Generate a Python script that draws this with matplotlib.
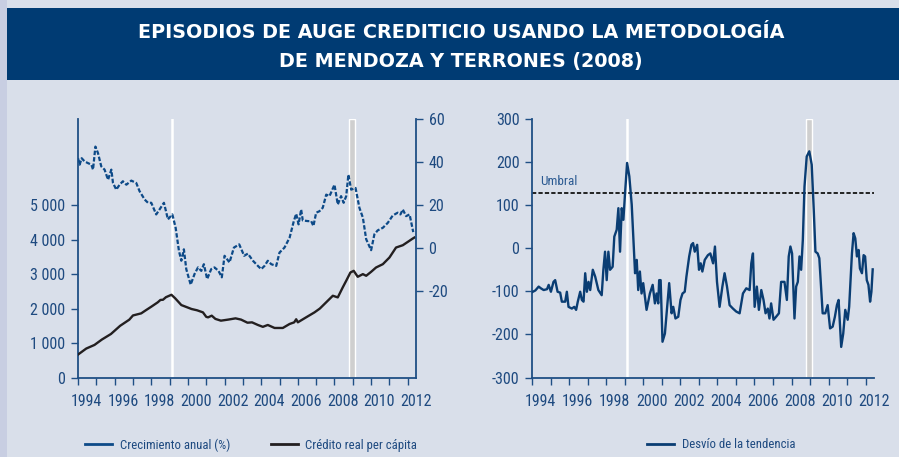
import matplotlib
matplotlib.use('Agg')
import matplotlib.pyplot as plt
from matplotlib.patches import Rectangle
from matplotlib.lines import Line2D

# ---------------- data ----------------
growth_dates = [1994.00, 1994.09, 1994.20, 1994.36, 1994.55, 1994.73, 1994.82, 1994.95,
                1995.09, 1995.27, 1995.45, 1995.64, 1995.82, 1995.91, 1996.09, 1996.27,
                1996.45, 1996.64, 1996.91, 1997.18, 1997.36, 1997.64, 1997.82, 1998.00,
                1998.27, 1998.45, 1998.69, 1998.91, 1999.15, 1999.33, 1999.51, 1999.64,
                1999.78, 1999.91, 2000.15, 2000.36, 2000.55, 2000.73, 2000.87, 2001.05,
                2001.27, 2001.45, 2001.67, 2001.85, 2002.00, 2002.27, 2002.51, 2002.80,
                2003.07, 2003.27, 2003.55, 2003.82, 2004.00, 2004.18, 2004.36, 2004.55,
                2004.82, 2005.00, 2005.27, 2005.55, 2005.78, 2005.91, 2006.04, 2006.18,
                2006.27, 2006.55, 2006.73, 2006.85, 2007.00, 2007.18, 2007.36, 2007.55,
                2007.73, 2008.00, 2008.18, 2008.36, 2008.50, 2008.64, 2008.76, 2008.91,
                2009.15, 2009.36, 2009.55, 2009.73, 2010.00, 2010.18, 2010.36, 2010.64,
                2010.91, 2011.18, 2011.45, 2011.60, 2011.73, 2011.91, 2012.10, 2012.30]
growth = [41.8, 38.8, 41.8, 40.3, 39.5, 38.8, 36.5, 47.2,
          44.2, 38.0, 36.5, 31.8, 36.5, 30.3, 27.2, 29.5,
          31.1, 29.5, 31.4, 30.3, 26.5, 22.6, 21.1, 21.1,
          15.7, 18.0, 21.1, 13.4, 15.7, 9.5, -1.2, -5.8,
          -0.5, -9.7, -16.9, -12.0, -8.9, -10.5, -7.4, -14.3,
          -9.7, -8.9, -10.5, -13.5, -3.5, -6.6, 0.3, 1.8,
          -3.5, -2.5, -5.8, -8.2, -9.7, -8.2, -5.8, -7.4,
          -8.2, -2.0, 0.3, 4.9, 12.6, 16.0, 11.1, 18.0,
          12.9, 12.6, 12.6, 10.3, 16.5, 17.2, 18.8, 24.9,
          24.2, 29.5, 20.3, 24.2, 21.1, 24.2, 34.2, 27.2,
          28.0, 18.8, 14.2, 4.2, -0.9, 6.5, 8.3, 9.5,
          11.8, 15.2, 16.5, 15.7, 18.0, 14.9, 15.7, 7.5]

credit_dates = [1994.00, 1994.45, 1994.90, 1995.30, 1995.80, 1996.30, 1996.80, 1997.00,
                1997.45, 1997.70, 1998.00, 1998.35, 1998.50, 1998.64, 1998.80, 1999.10,
                1999.30, 1999.64, 2000.20, 2000.50, 2000.82, 2001.00, 2001.10, 2001.30,
                2001.50, 2001.80, 2002.20, 2002.60, 2002.90, 2003.25, 2003.50, 2003.82,
                2004.09, 2004.36, 2004.73, 2005.18, 2005.55, 2005.80, 2005.91, 2006.00,
                2006.45, 2006.91, 2007.20, 2007.45, 2007.91, 2008.18, 2008.45, 2008.64,
                2008.87, 2009.05, 2009.27, 2009.55, 2009.73, 2010.00, 2010.27, 2010.64,
                2011.00, 2011.36, 2011.73, 2012.00, 2012.27, 2012.36]
credit = [665, 840, 945, 1100, 1263, 1500, 1678, 1800,
          1861, 1950, 2054, 2180, 2250, 2256, 2330, 2400,
          2300, 2102, 1987, 1950, 1890, 1760, 1745, 1794,
          1700, 1649, 1680, 1716, 1680, 1590, 1600, 1524,
          1470, 1524, 1437, 1437, 1553, 1600, 1690, 1601,
          1745, 1890, 2000, 2131, 2372, 2324, 2613, 2806,
          3047, 3095, 2922, 2999, 2951, 3066, 3192, 3288,
          3481, 3771, 3838, 3934, 4031, 4060]

dev_dates = [1994.00, 1994.18, 1994.36, 1994.48, 1994.63, 1994.81, 1994.90, 1995.02,
             1995.16, 1995.25, 1995.38, 1995.52, 1995.61, 1995.79, 1995.88, 1995.97,
             1996.15, 1996.28, 1996.38, 1996.47, 1996.60, 1996.69, 1996.78, 1996.87,
             1996.96, 1997.05, 1997.14, 1997.28, 1997.41, 1997.58, 1997.76, 1997.85,
             1997.94, 1998.03, 1998.12, 1998.21, 1998.35, 1998.44, 1998.57, 1998.66,
             1998.75, 1998.84, 1998.93, 1999.02, 1999.13, 1999.25, 1999.38, 1999.47,
             1999.56, 1999.65, 1999.73, 1999.82, 1999.91, 2000.00, 2000.18, 2000.36,
             2000.51, 2000.63, 2000.72, 2000.81, 2000.86, 2000.94, 2001.04, 2001.17,
             2001.29, 2001.40, 2001.53, 2001.62, 2001.74, 2001.89, 2002.01, 2002.12,
             2002.24, 2002.33, 2002.48, 2002.60, 2002.69, 2002.78, 2002.91, 2003.01,
             2003.10, 2003.19, 2003.32, 2003.49, 2003.62, 2003.77, 2003.87, 2003.98,
             2004.12, 2004.27, 2004.39, 2004.52, 2004.66, 2004.84, 2005.02, 2005.20,
             2005.38, 2005.56, 2005.74, 2005.83, 2005.92, 2006.01, 2006.13, 2006.24,
             2006.37, 2006.49, 2006.60, 2006.72, 2006.81, 2006.90, 2007.03, 2007.17,
             2007.32, 2007.44, 2007.62, 2007.75, 2007.85, 2007.94, 2008.03, 2008.16,
             2008.25, 2008.34, 2008.43, 2008.52, 2008.61, 2008.70, 2008.82, 2008.96,
             2009.09, 2009.20, 2009.29, 2009.41, 2009.50, 2009.68, 2009.82, 2009.95,
             2010.08, 2010.22, 2010.34, 2010.45, 2010.54, 2010.68, 2010.79, 2010.90,
             2011.03, 2011.11, 2011.26, 2011.35, 2011.44, 2011.53, 2011.62, 2011.69,
             2011.80, 2011.89, 2011.97, 2012.06, 2012.15, 2012.24, 2012.31, 2012.38]
deviation = [-102, -98, -89, -93, -97, -95, -85, -101,
             -78, -74, -101, -103, -124, -124, -101, -136,
             -140, -136, -143, -124, -101, -120, -124, -58,
             -101, -78, -97, -50, -66, -97, -109, -50,
             -8, -74, -8, -50, -43, 27, 43, 93,
             -8, 93, 66, 128, 198, 167, 101, 19,
             -58, -27, -97, -54, -105, -81, -143, -105,
             -85, -128, -105, -128, -74, -74, -217, -198,
             -136, -81, -151, -136, -163, -159, -120, -105,
             -101, -66, -19, 8, 12, -8, 8, -50,
             -35, -54, -27, -16, -12, -35, 4, -78,
             -136, -89, -58, -89, -132, -140, -147, -151,
             -105, -93, -97, -35, -12, -136, -89, -143,
             -97, -120, -151, -140, -163, -128, -166, -159,
             -151, -78, -78, -120, -19, 4, -12, -163,
             -89, -78, -19, -50, 19, 143, 213, 225,
             194, 89, -8, -12, -23, -151, -151, -132,
             -186, -182, -159, -132, -120, -229, -198, -143,
             -166, -136, -12, 35, 23, -19, -4, -47,
             -58, -16, -19, -74, -85, -124, -101, -49]

threshold = 128
boom_line = 1999.13
boom_band = (2008.80, 2009.10)

years = list(range(1994, 2013))
label_years = list(range(1994, 2013, 2))
left_ticks = [0, 1000, 2000, 3000, 4000, 5000]
left_labels = ['0', '1 000', '2 000', '3 000', '4 000', '5 000']
right_ticks = [-20, 0, 20, 40, 60]
dev_ticks = [-300, -200, -100, 0, 100, 200, 300]

title_1 = 'EPISODIOS DE AUGE CREDITICIO USANDO LA METODOLOGÍA'
title_2 = 'DE MENDOZA Y TERRONES (2008)'
legend_left = ['Crecimiento anual (%)', 'Crédito real per cápita']
legend_right = ['Desvío de la tendencia']

# ---------------- style ----------------
plt.rcParams['font.family'] = ['Roboto Condensed', 'Liberation Sans Narrow',
                               'Roboto', 'DejaVu Sans']
plt.rcParams['axes.unicode_minus'] = False

BG = '#d9dfea'
STRIP = '#c8cee2'
BAND = '#003b73'
SPINE = '#1f4f85'
TXT = '#1e4a80'
BLUE = '#0d4a88'
NAVY = '#0a3d73'
BLACK = '#231f20'
TICK_FS = 11.5

W, H = 899, 457
fig = plt.figure(figsize=(W / 100, H / 100), dpi=100, facecolor=BG)
fig.patches.append(Rectangle((0, 0), 7 / W, 1, transform=fig.transFigure,
                             facecolor=STRIP, edgecolor='none', zorder=0))
fig.patches.append(Rectangle((7 / W, 1 - 80 / H), 1 - 7 / W, 72 / H,
                             transform=fig.transFigure, facecolor=BAND,
                             edgecolor='none', zorder=0))
for txt, yy in ((title_1, 33), (title_2, 61)):
    fig.text(461 / W, 1 - yy / H, txt, ha='center', va='center', color='white',
             fontsize=13.8, fontweight='bold', family='DejaVu Sans')

bottom = (H - 377.5) / H
height = 258.5 / H


def style_xaxis(ax):
    ax.set_xticks(years)
    ax.set_xticklabels([])
    ax.set_xticks([y + 0.45 for y in label_years], minor=True)
    ax.set_xticklabels([str(y) for y in label_years], minor=True)
    ax.tick_params(axis='x', which='major', direction='out', length=5,
                   width=1, color=SPINE)
    ax.tick_params(axis='x', which='minor', length=0, pad=12,
                   labelsize=TICK_FS, labelcolor=TXT)


# ---------------- left chart ----------------
ax1 = fig.add_axes([78 / W, bottom, 338 / W, height])
ax1.set_facecolor('none')
ax1.set_xlim(1994, 2012.42)
ax1.set_ylim(0, 7500)
ax1.axvline(boom_line, color='white', lw=1.8, zorder=1)
ax1.axvspan(*boom_band, facecolor='#cfcfcf', edgecolor='white', lw=1, zorder=1)
ax1.plot(credit_dates, credit, color=BLACK, lw=1.7, zorder=3)
ax1.set_yticks(left_ticks)
ax1.set_yticklabels(left_labels)
ax1.tick_params(axis='y', direction='out', length=5, width=1, color=SPINE,
                labelsize=TICK_FS, labelcolor=TXT, pad=4)
style_xaxis(ax1)
for s in ('top', 'right'):
    ax1.spines[s].set_visible(False)
for s in ('left', 'bottom'):
    ax1.spines[s].set_color(SPINE)
    ax1.spines[s].set_linewidth(1.3)

ax1r = ax1.twinx()
ax1r.set_ylim(-60, 60)
ax1r.plot(growth_dates, growth, color=BLUE, lw=1.6, linestyle=(0, (2.0, 0.9)),
          zorder=3)
ax1r.set_yticks(right_ticks)
ax1r.tick_params(axis='y', direction='out', length=5, width=1, color=SPINE,
                 labelsize=TICK_FS, labelcolor=TXT, pad=4)
for s in ('top', 'left', 'bottom'):
    ax1r.spines[s].set_visible(False)
ax1r.spines['right'].set_color(SPINE)
ax1r.spines['right'].set_linewidth(1.3)

# ---------------- right chart ----------------
ax2 = fig.add_axes([532 / W, bottom, 342 / W, height])
ax2.set_facecolor('none')
ax2.set_xlim(1994, 2012.4)
ax2.set_ylim(-300, 300)
ax2.axvline(boom_line, color='white', lw=1.8, zorder=1)
ax2.axvspan(*boom_band, facecolor='#cfcfcf', edgecolor='white', lw=1, zorder=1)
ax2.axhline(threshold, color='#222222', lw=1.4, linestyle=(0, (2.2, 1.1)), zorder=2)
ax2.text(1994.43, 156, 'Umbral', ha='left', va='center', fontsize=9.5,
         color='#2b5a92')
ax2.plot(dev_dates, deviation, color=NAVY, lw=1.7, zorder=3)
ax2.set_yticks(dev_ticks)
ax2.tick_params(axis='y', direction='out', length=5, width=1, color=SPINE,
                labelsize=TICK_FS, labelcolor=TXT, pad=4)
style_xaxis(ax2)
for s in ('top', 'right'):
    ax2.spines[s].set_visible(False)
for s in ('left', 'bottom'):
    ax2.spines[s].set_color(SPINE)
    ax2.spines[s].set_linewidth(1.3)

# ---------------- legends ----------------
leg_kw = dict(loc='center left', frameon=False, fontsize=9.2, handlelength=2.1,
              handletextpad=0.6, columnspacing=3.2, borderpad=0,
              borderaxespad=0, labelcolor=TXT)
fig.legend(handles=[Line2D([], [], color=BLUE, lw=2),
                    Line2D([], [], color=BLACK, lw=2)],
           labels=legend_left, ncol=2,
           bbox_to_anchor=(85 / W, 1 - 445 / H), **leg_kw)
fig.legend(handles=[Line2D([], [], color=NAVY, lw=2)],
           labels=legend_right, ncol=1,
           bbox_to_anchor=(647 / W, 1 - 445 / H), **leg_kw)

fig.savefig('out.png', dpi=100, facecolor=BG)
